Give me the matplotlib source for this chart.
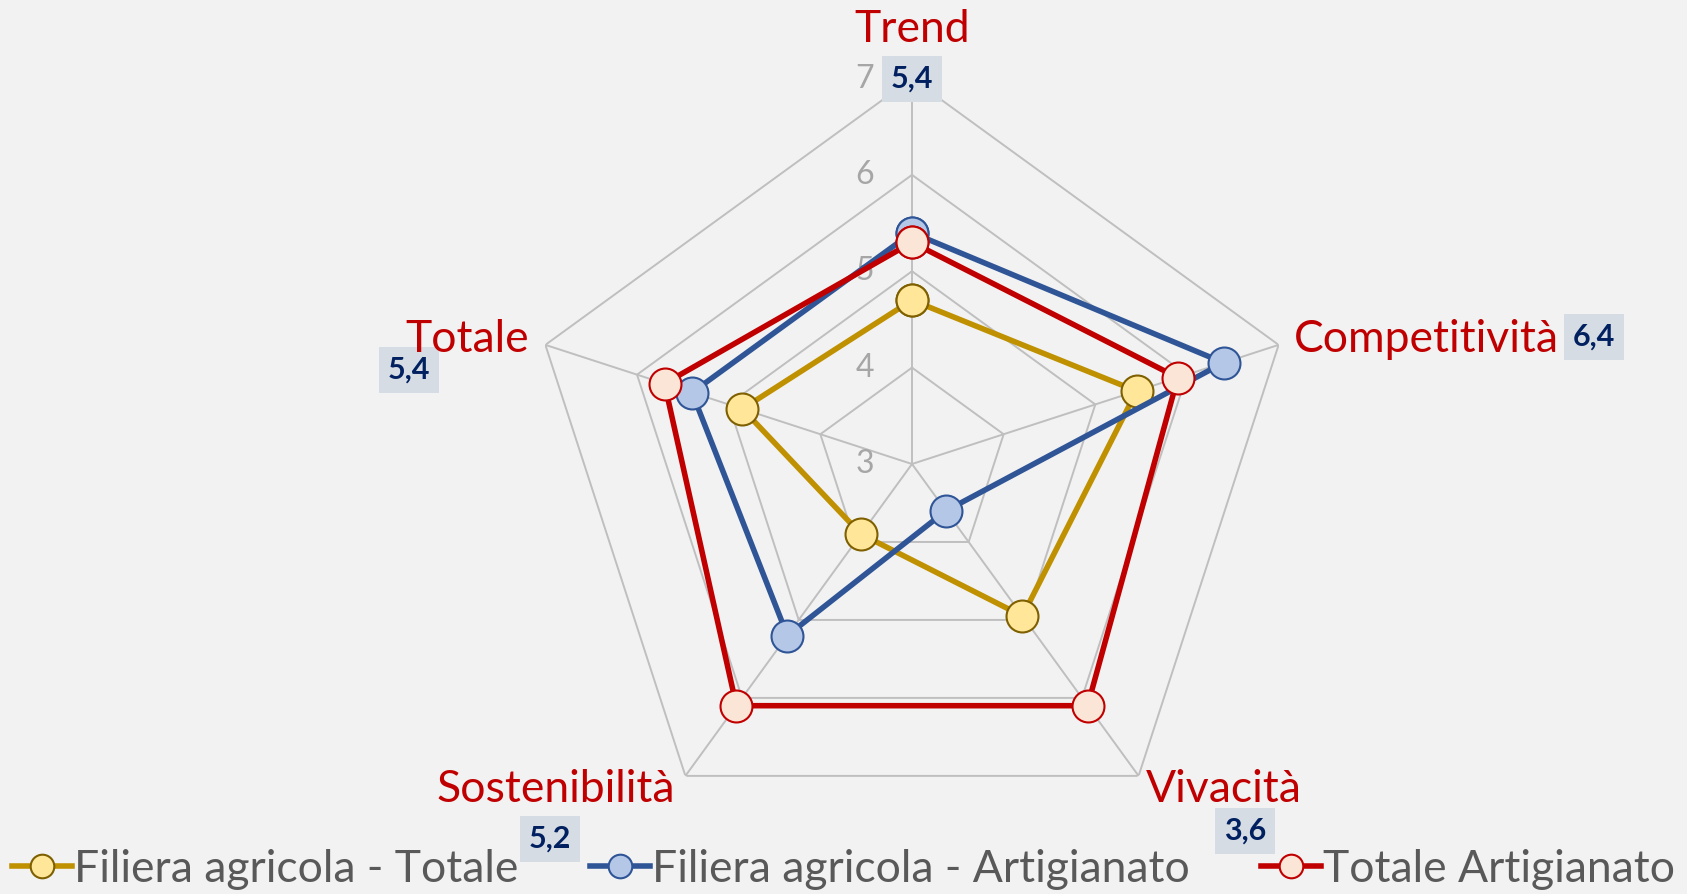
import numpy as np
import matplotlib
matplotlib.use('Agg')
import matplotlib.pyplot as plt
from matplotlib.lines import Line2D

# data
categories = ["Trend", "Competitività", "Vivacità", "Sostenibilità", "Totale"]
filiera_totale = [4.7, 5.45, 4.95, 3.9, 4.85]
filiera_artigianato = [5.4, 6.4, 3.6, 5.2, 5.4]
totale_artigianato = [5.3, 5.9, 6.1, 6.1, 5.7]
series_names = ["Filiera agricola - Totale", "Filiera agricola - Artigianato", "Totale Artigianato"]
r_ticks = [3, 4, 5, 6, 7]

BG = "#F2F2F2"
GRID = "#BFBFBF"
FONT = ["Lato", "DejaVu Sans"]

plt.rcParams['font.family'] = FONT

W, H = 1687, 894
fig = plt.figure(figsize=(W / 100, H / 100), dpi=100, facecolor=BG)

cx, cy, rad = 912, 464, 385.5
ax = fig.add_axes([(cx - rad) / W, (H - cy - rad) / H, 2 * rad / W, 2 * rad / H],
                  projection='polar')
ax.set_theta_offset(np.pi / 2)
ax.set_theta_direction(-1)
ax.set_ylim(3, 7)
ax.patch.set_alpha(0)
ax.spines['polar'].set_visible(False)
ax.grid(False)
ax.set_xticks([])
ax.set_yticks([])

angles = np.linspace(0, 2 * np.pi, len(categories), endpoint=False)
closed = np.append(angles, angles[0])

# polygon grid + spokes
for r in r_ticks[1:]:
    ax.plot(closed, [r] * len(closed), color=GRID, lw=1.4, zorder=1)
for a in angles:
    ax.plot([a, a], [3, 7], color=GRID, lw=1.4, zorder=1)

# radial tick labels
for r in r_ticks:
    ax.annotate(str(r), xy=(0, r), xytext=(-34, 0), textcoords='offset points',
                ha='center', va='center', color="#A6A6A6", fontsize=23, zorder=2)

styles = [
    dict(color="#BF9000", mfc="#FFE699", mec="#7F6000"),
    dict(color="#2F5597", mfc="#B4C7E7", mec="#2F5597"),
    dict(color="#C00000", mfc="#FBE5D6", mec="#C00000"),
]
handles = []
for vals, name, st in zip([filiera_totale, filiera_artigianato, totale_artigianato],
                          series_names, styles):
    v = np.append(vals, vals[0])
    ax.plot(closed, v, color=st['color'], lw=4, marker='o', ms=23,
            mfc=st['mfc'], mec=st['mec'], mew=1.5, zorder=3, clip_on=False)
    handles.append(Line2D([], [], color=st['color'], lw=4, marker='o', ms=17,
                          mfc=st['mfc'], mec=st['mec'], mew=1.5, label=name))

# category labels (figure pixel positions)
cat_pos = [(912, 30, 'center'), (1294, 340, 'left'), (1224, 789, 'center'),
           (556, 789, 'center'), (529, 340, 'right')]
for name, (x, y, ha) in zip(categories, cat_pos):
    fig.text(x / W, 1 - y / H, name, ha=ha, va='center', color="#C00000",
             fontsize=32, zorder=5)

# data labels of the blue series
lab_pos = [(912, 79), (1594, 337), (1245, 831), (550, 839), (409, 370)]
for val, (x, y) in zip(filiera_artigianato, lab_pos):
    fig.text(x / W, 1 - y / H, f"{val:.1f}".replace('.', ','), ha='center', va='center',
             color="#002060", fontsize=22, fontweight='bold', zorder=4,
             bbox=dict(boxstyle='square,pad=0.3', fc="#D6DCE4", ec='none'))

fig.legend(handles=handles, loc='center', bbox_to_anchor=(0.5, 1 - 869 / H), ncol=3,
           frameon=False, fontsize=32, labelcolor="#595959", handlelength=1.35,
           handletextpad=0.05, columnspacing=1.6, borderpad=0)

fig.savefig("out.png", dpi=100, facecolor=BG)
